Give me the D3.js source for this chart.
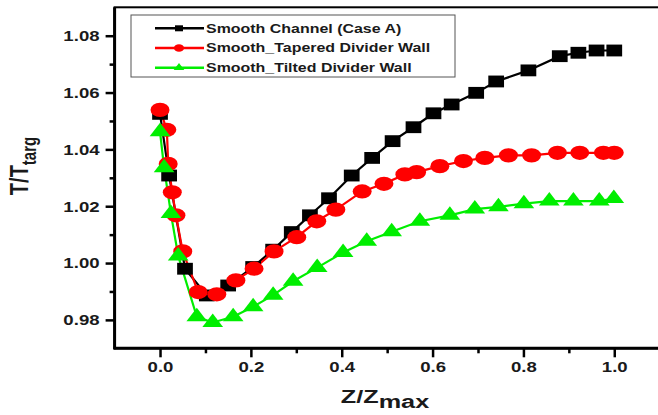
<!DOCTYPE html>
<html>
<head>
<meta charset="utf-8">
<script src="https://cdn.jsdelivr.net/npm/d3@7/dist/d3.min.js"></script>
<style>
  body { margin: 0; background: #fff; }
  svg { display: block; font-family: "Liberation Sans", Arial, sans-serif; font-weight: bold; }
</style>
</head>
<body>
<svg id="vis" width="658" height="415"></svg>
<script>
// Smooth Channel (Case A)
var channelX = [0, 0.02, 0.055, 0.103, 0.15, 0.205, 0.249, 0.29, 0.33, 0.372, 0.422, 0.467, 0.512, 0.558, 0.602, 0.642, 0.696, 0.74, 0.811, 0.88, 0.921, 0.961, 1.0];
var channelY = [1.0525, 1.0308, 0.998, 0.9886, 0.9921, 0.9986, 1.0047, 1.0109, 1.0168, 1.0228, 1.0308, 1.037, 1.0429, 1.0478, 1.0527, 1.0558, 1.0599, 1.0639, 1.0678, 1.0728, 1.074, 1.0748, 1.0748];

// Smooth_Tapered Divider Wall
var taperedX = [0, 0.015, 0.018, 0.027, 0.035, 0.05, 0.084, 0.125, 0.167, 0.207, 0.251, 0.301, 0.345, 0.387, 0.445, 0.493, 0.539, 0.565, 0.616, 0.668, 0.715, 0.767, 0.818, 0.875, 0.924, 0.976, 1.0];
var taperedY = [1.0539, 1.0469, 1.0349, 1.0249, 1.0168, 1.0041, 0.9898, 0.989, 0.9939, 0.998, 1.0041, 1.0091, 1.0147, 1.0188, 1.0252, 1.0279, 1.0312, 1.032, 1.0341, 1.0359, 1.037, 1.0379, 1.0379, 1.0388, 1.0388, 1.0388, 1.0388];

// Smooth_Tilted Divider Wall
var tiltedX = [0, 0.009, 0.024, 0.04, 0.081, 0.116, 0.161, 0.205, 0.249, 0.293, 0.346, 0.403, 0.455, 0.51, 0.572, 0.638, 0.693, 0.745, 0.801, 0.857, 0.91, 0.967, 0.999];
var tiltedY = [1.0462, 1.0335, 1.0174, 1.0025, 0.9811, 0.9791, 0.9811, 0.9846, 0.9887, 0.9936, 0.9984, 1.0037, 1.0077, 1.011, 1.0147, 1.0168, 1.019, 1.0198, 1.0209, 1.0218, 1.0218, 1.0218, 1.0227];

var seriesNames = ['Smooth Channel (Case A)', 'Smooth_Tapered Divider Wall', 'Smooth_Tilted Divider Wall'];
var seriesColors = ['#000000', '#ff0000', '#00ee00'];

var xMajorTicks = [0, 0.2, 0.4, 0.6, 0.8, 1.0];
var xMinorTicks = [0.1, 0.3, 0.5, 0.7, 0.9];
var yMajorTicks = [0.98, 1.00, 1.02, 1.04, 1.06, 1.08];
var yMinorTicks = [0.99, 1.01, 1.03, 1.05, 1.07];

// the picture is stretched sideways a bit
var sx = 1.33;

var svg = d3.select('#vis');

var x = d3.scaleLinear().domain([-0.1, 1.1]).range([114.6, 659.7]);
var y = d3.scaleLinear().domain([0.97, 1.09]).range([348.3, 7.3]);

var series = [
  {name: seriesNames[0], color: seriesColors[0], shape: d3.symbolSquare, size: 140, pts: d3.zip(channelX, channelY)},
  {name: seriesNames[1], color: seriesColors[1], shape: d3.symbolCircle, size: 160, pts: d3.zip(taperedX, taperedY)},
  {name: seriesNames[2], color: seriesColors[2], shape: d3.symbolTriangle, size: 105, pts: d3.zip(tiltedX, tiltedY)}
];

// Frame
svg.append('rect')
  .attr('x', x(-0.1)).attr('y', y(1.09))
  .attr('width', x(1.1) - x(-0.1)).attr('height', y(0.97) - y(1.09))
  .attr('fill', 'none').attr('stroke', '#000').attr('stroke-width', 2);

// X axis
var gx = svg.append('g').attr('transform', 'translate(0,' + y(0.97) + ')');
gx.call(d3.axisBottom(x).tickValues(xMinorTicks).tickSize(5).tickFormat(''));
var gxMajor = svg.append('g').attr('transform', 'translate(0,' + y(0.97) + ')')
  .call(d3.axisBottom(x).tickValues(xMajorTicks).tickSize(9).tickPadding(5).tickFormat(d3.format('.1f')));
svg.selectAll('.domain').remove();
gxMajor.selectAll('text')
  .attr('font-size', 14).attr('font-family', null).attr('fill', '#1a1a1a')
  .attr('y', 0).attr('dy', null)
  .attr('transform', function() { return 'translate(0,24) scale(' + sx + ',1)'; });

// Y axis
var gy = svg.append('g').attr('transform', 'translate(' + x(-0.1) + ',0)');
gy.call(d3.axisLeft(y).tickValues(yMinorTicks).tickSize(5).tickFormat(''));
var gyMajor = svg.append('g').attr('transform', 'translate(' + x(-0.1) + ',0)')
  .call(d3.axisLeft(y).tickValues(yMajorTicks).tickSize(9).tickFormat(d3.format('.2f')));
svg.selectAll('.domain').remove();
gyMajor.selectAll('text')
  .attr('font-size', 14).attr('font-family', null).attr('fill', '#1a1a1a')
  .attr('x', -15 / sx).attr('dy', '0.35em')
  .attr('transform', 'scale(' + sx + ',1)');
svg.selectAll('.tick line').attr('stroke-width', 2.5);

// Axis lines
svg.append('line')
  .attr('x1', x(-0.1)).attr('x2', x(-0.1)).attr('y1', y(1.09)).attr('y2', y(0.97) + 1)
  .attr('stroke', '#000').attr('stroke-width', 3);
svg.append('line')
  .attr('x1', x(-0.1) - 1).attr('x2', x(1.1)).attr('y1', y(0.97)).attr('y2', y(0.97))
  .attr('stroke', '#000').attr('stroke-width', 3);

// Series
var line = d3.line()
  .x(function(d) { return x(d[0]); })
  .y(function(d) { return y(d[1]); });

series.forEach(function(s) {
  svg.append('path')
    .datum(s.pts)
    .attr('fill', 'none')
    .attr('stroke', s.color)
    .attr('stroke-width', 2.2)
    .attr('d', line);
});

series.forEach(function(s) {
  svg.append('g').selectAll('path')
    .data(s.pts)
    .enter()
    .append('path')
    .attr('d', d3.symbol().type(s.shape).size(s.size))
    .attr('fill', s.color)
    .attr('transform', function(d) {
      return 'translate(' + x(d[0]) + ',' + y(d[1]) + ') scale(' + sx + ',1)';
    });
});

// Legend
var legend = svg.append('g');
legend.append('rect')
  .attr('x', 131).attr('y', 15).attr('width', 324).attr('height', 62)
  .attr('fill', '#fff').attr('stroke', '#555').attr('stroke-width', 1);

var legendSizes = [36, 45, 28];
series.forEach(function(s, i) {
  var ly = 28.3 + i * 19.7;
  legend.append('line')
    .attr('x1', 155).attr('x2', 204).attr('y1', ly).attr('y2', ly)
    .attr('stroke', s.color).attr('stroke-width', 2.5);
  legend.append('path')
    .attr('d', d3.symbol().type(s.shape).size(legendSizes[i]))
    .attr('fill', s.color)
    .attr('transform', 'translate(179,' + ly + ') scale(' + sx + ',1)');
  legend.append('text')
    .attr('font-size', 12)
    .attr('fill', '#1a1a1a')
    .attr('dy', '0.35em')
    .attr('transform', 'translate(206,' + ly + ') scale(' + sx + ',1)')
    .text(s.name);
});

// X title
var xt = svg.append('text')
  .attr('font-size', 19).attr('fill', '#1a1a1a')
  .attr('text-anchor', 'middle')
  .attr('transform', 'translate(385,403) scale(' + sx + ',1)');
xt.append('tspan').text('Z/Z');
xt.append('tspan').attr('dy', 5).text('max');

// Y title
var yt = svg.append('text')
  .attr('font-size', 20).attr('fill', '#1a1a1a')
  .attr('text-anchor', 'middle')
  .attr('transform', 'translate(28,166) rotate(-90) scale(1,' + sx + ')');
yt.append('tspan').text('T/T');
yt.append('tspan').attr('font-size', 15).attr('dy', 6).text('targ');
</script>
</body>
</html>
